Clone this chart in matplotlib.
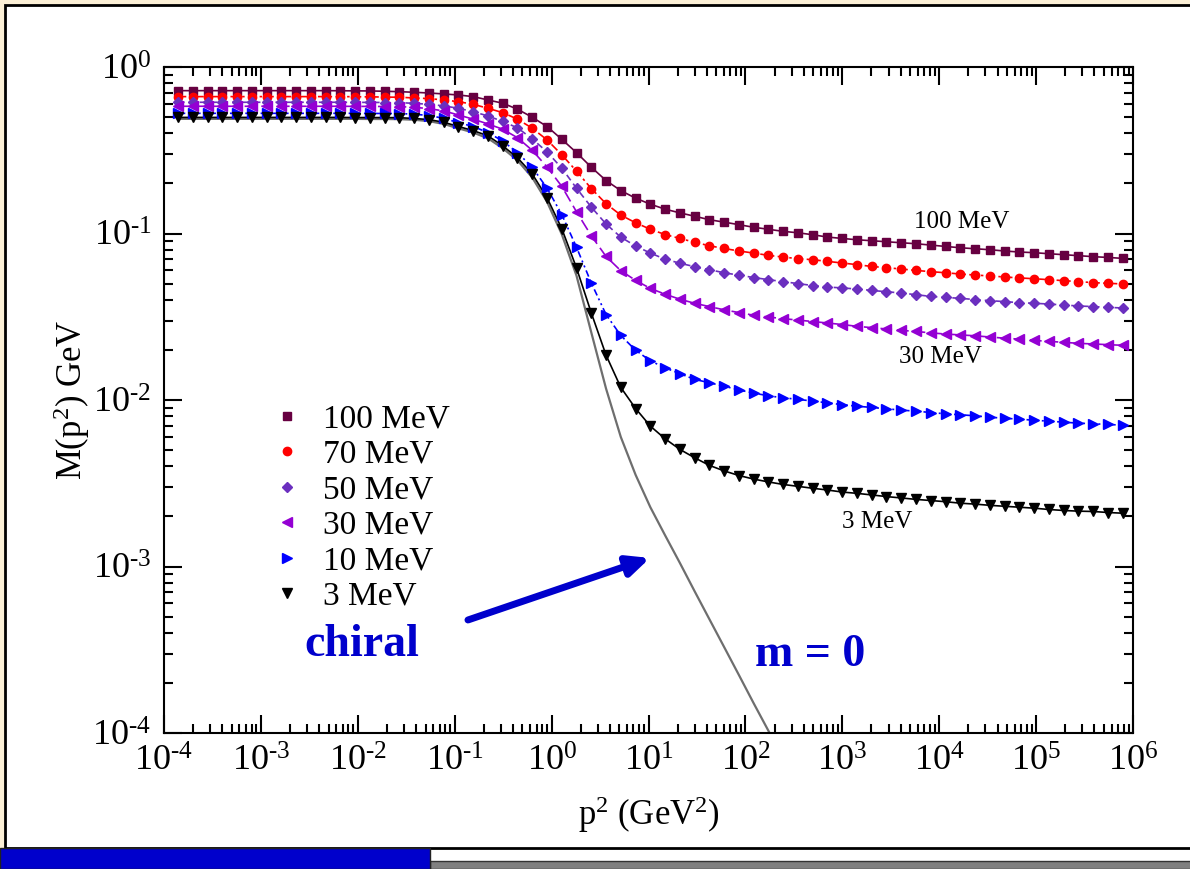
import numpy as np
import matplotlib
matplotlib.use("Agg")
import matplotlib.pyplot as plt
from matplotlib.patches import Rectangle

plt.rcParams["font.family"] = ["Liberation Serif", "DejaVu Serif"]
plt.rcParams["mathtext.fontset"] = "custom"
plt.rcParams["mathtext.rm"] = "Liberation Serif"
plt.rcParams["mathtext.it"] = "Liberation Serif:italic"
plt.rcParams["mathtext.bf"] = "Liberation Serif:bold"

# ── data: log10 p^2 grid (GeV^2) and running mass M(p^2) in GeV ───────────────
log_p2 = [-3.856, -3.704, -3.551, -3.399, -3.247, -3.094, -2.942, -2.790, -2.637, -2.485,
          -2.333, -2.180, -2.028, -1.876, -1.723, -1.571, -1.419, -1.266, -1.114, -0.961,
          -0.809, -0.657, -0.504, -0.352, -0.200, -0.047, 0.105, 0.257, 0.410, 0.562,
          0.714, 0.867, 1.019, 1.171, 1.324, 1.476, 1.628, 1.781, 1.933, 2.085,
          2.238, 2.390, 2.542, 2.695, 2.847, 2.999, 3.152, 3.304, 3.456, 3.609,
          3.761, 3.913, 4.066, 4.218, 4.370, 4.523, 4.675, 4.828, 4.980, 5.132,
          5.285, 5.437, 5.589, 5.742, 5.894]

M_100 = [0.721, 0.721, 0.721, 0.721, 0.721, 0.721, 0.721, 0.721, 0.721, 0.721,
         0.721, 0.720, 0.719, 0.718, 0.715, 0.711, 0.705, 0.698, 0.689, 0.679,
         0.664, 0.634, 0.606, 0.558, 0.499, 0.439, 0.368, 0.306, 0.250, 0.208,
         0.181, 0.163, 0.150, 0.140, 0.133, 0.127, 0.121, 0.117, 0.113, 0.109,
         0.106, 0.103, 0.101, 0.0983, 0.0952, 0.0934, 0.0917, 0.0905, 0.0892, 0.0880,
         0.0868, 0.0852, 0.0836, 0.0821, 0.0810, 0.0799, 0.0785, 0.0774, 0.0767, 0.0756,
         0.0746, 0.0736, 0.0726, 0.0718, 0.0709]

M_70 = [0.664, 0.664, 0.664, 0.664, 0.664, 0.664, 0.664, 0.664, 0.664, 0.664,
        0.664, 0.664, 0.663, 0.662, 0.660, 0.658, 0.652, 0.646, 0.634, 0.619,
        0.597, 0.565, 0.532, 0.486, 0.429, 0.365, 0.297, 0.237, 0.186, 0.151,
        0.129, 0.116, 0.106, 0.0986, 0.0934, 0.0886, 0.0844, 0.0813, 0.0785, 0.0763,
        0.0739, 0.0722, 0.0706, 0.0696, 0.0680, 0.0665, 0.0650, 0.0634, 0.0623, 0.0612,
        0.0600, 0.0590, 0.0581, 0.0571, 0.0563, 0.0556, 0.0548, 0.0541, 0.0535, 0.0528,
        0.0521, 0.0514, 0.0507, 0.0502, 0.0498]

M_50 = [0.614, 0.614, 0.614, 0.614, 0.614, 0.614, 0.614, 0.614, 0.614, 0.614,
        0.614, 0.614, 0.613, 0.613, 0.612, 0.611, 0.605, 0.597, 0.584, 0.565,
        0.539, 0.508, 0.471, 0.431, 0.370, 0.309, 0.247, 0.187, 0.144, 0.114,
        0.0951, 0.0841, 0.0763, 0.0701, 0.0663, 0.0632, 0.0606, 0.0581, 0.0562, 0.0544,
        0.0528, 0.0514, 0.0500, 0.0487, 0.0477, 0.0471, 0.0464, 0.0455, 0.0447, 0.0439,
        0.0429, 0.0419, 0.0413, 0.0408, 0.0401, 0.0395, 0.0390, 0.0384, 0.0381, 0.0377,
        0.0372, 0.0367, 0.0364, 0.0360, 0.0357]

M_30 = [0.581, 0.581, 0.581, 0.581, 0.581, 0.581, 0.581, 0.581, 0.581, 0.581,
        0.581, 0.581, 0.580, 0.580, 0.579, 0.578, 0.573, 0.562, 0.545, 0.515,
        0.486, 0.455, 0.423, 0.376, 0.316, 0.251, 0.192, 0.135, 0.0969, 0.0728,
        0.0598, 0.0523, 0.0468, 0.0432, 0.0403, 0.0381, 0.0364, 0.0348, 0.0335, 0.0323,
        0.0315, 0.0308, 0.0302, 0.0296, 0.0290, 0.0284, 0.0277, 0.0272, 0.0267, 0.0262,
        0.0258, 0.0253, 0.0249, 0.0246, 0.0243, 0.0239, 0.0235, 0.0232, 0.0228, 0.0225,
        0.0222, 0.0219, 0.0217, 0.0215, 0.0213]

M_10 = [0.527, 0.527, 0.527, 0.527, 0.527, 0.527, 0.527, 0.527, 0.527, 0.527,
        0.527, 0.527, 0.527, 0.526, 0.526, 0.525, 0.521, 0.511, 0.492, 0.463,
        0.439, 0.404, 0.359, 0.306, 0.250, 0.187, 0.130, 0.0827, 0.0504, 0.0326,
        0.0244, 0.0199, 0.0172, 0.0156, 0.0144, 0.0133, 0.0127, 0.0121, 0.0115, 0.0110,
        0.0106, 0.0103, 0.0101, 0.00984, 0.00962, 0.00937, 0.00918, 0.00902, 0.00886, 0.00869,
        0.00857, 0.00841, 0.00826, 0.00815, 0.00804, 0.00788, 0.00777, 0.00767, 0.00756, 0.00746,
        0.00736, 0.00726, 0.00720, 0.00713, 0.00706]

M_3 = [0.498, 0.498, 0.498, 0.498, 0.498, 0.498, 0.498, 0.498, 0.498, 0.498,
       0.498, 0.498, 0.497, 0.497, 0.497, 0.496, 0.491, 0.483, 0.466, 0.439,
       0.415, 0.386, 0.336, 0.285, 0.228, 0.164, 0.107, 0.0621, 0.0333, 0.0186,
       0.0119, 0.00889, 0.00697, 0.00585, 0.00505, 0.00450, 0.00405, 0.00375, 0.00352, 0.00335,
       0.00322, 0.00311, 0.00303, 0.00295, 0.00288, 0.00280, 0.00275, 0.00269, 0.00263, 0.00258,
       0.00253, 0.00249, 0.00245, 0.00240, 0.00237, 0.00233, 0.00230, 0.00227, 0.00224, 0.00220,
       0.00217, 0.00215, 0.00214, 0.00211, 0.00209]

# chiral limit (m = 0), same grid up to where it leaves the frame
M_chiral = [0.488, 0.488, 0.488, 0.488, 0.488, 0.488, 0.488, 0.488, 0.488, 0.488,
            0.488, 0.488, 0.488, 0.487, 0.487, 0.486, 0.482, 0.473, 0.455, 0.428,
            0.404, 0.373, 0.325, 0.275, 0.217, 0.155, 0.0990, 0.0558, 0.0254, 0.0117,
            0.00600, 0.00355, 0.00227, 0.00154, 0.00105, 0.000710, 0.000483, 0.000328, 0.000223, 0.000151,
            0.000103, 0.0000698]

labels = ["100 MeV", "70 MeV", "50 MeV", "30 MeV", "10 MeV", "3 MeV"]
series = [M_100, M_70, M_50, M_30, M_10, M_3]
colors = ["#670041", "#ff0000", "#6b2fbf", "#9400d3", "#0000ff", "#000000"]
markers = ["s", "o", "D", "<", ">", "v"]
msizes = [5.5, 6.0, 4.8, 6.5, 6.5, 6.5]
lstyles = ["-", (0, (5, 2, 1.5, 2)), (0, (4, 2.5)), (0, (7, 3)),
           (0, (1.2, 2, 1.2, 2, 4, 2)), "-"]

x_exps = list(range(-4, 7))
y_exps = list(range(-4, 1))

p2 = 10.0 ** np.array(log_p2)

fig = plt.figure(figsize=(11.9, 8.69), dpi=100)
fig.patch.set_facecolor("white")

# slide decoration
cream = "#fcf0d6"
fig.patches.append(Rectangle((0, 1 - 5 / 869), 1, 5 / 869, transform=fig.transFigure,
                             facecolor=cream, edgecolor="none", zorder=0))
fig.patches.append(Rectangle((0, 0), 5 / 1190, 1, transform=fig.transFigure,
                             facecolor=cream, edgecolor="none", zorder=0))
fig.patches.append(Rectangle((5 / 1190, 21 / 869), 1, 1 - 26 / 869, transform=fig.transFigure,
                             facecolor="none", edgecolor="black", lw=2.0, zorder=1))
fig.patches.append(Rectangle((430 / 1190, 0), 1, 8 / 869, transform=fig.transFigure,
                             facecolor="#808080", edgecolor="#333333", lw=1.0, zorder=2))
fig.patches.append(Rectangle((0, 0), 430 / 1190, 21 / 869, transform=fig.transFigure,
                             facecolor="#0000cc", edgecolor="#222222", lw=1.0, zorder=3))

ax = fig.add_axes([164 / 1190, 1 - 733 / 869, 969 / 1190, 666 / 869])

ax.plot(p2[:len(M_chiral)], M_chiral, color="#6e6e6e", lw=1.6, zorder=2)

handles = []
for M, lab, c, mk, ms, ls in zip(series, labels, colors, markers, msizes, lstyles):
    ax.plot(p2, M, color=c, lw=1.2, ls=ls, zorder=3)
    ax.plot(p2, M, ls="none", marker=mk, ms=ms, color=c, mec=c, zorder=4)
    h, = ax.plot([], [], ls="none", marker=mk, ms=ms, color=c, mec=c, label=lab)
    handles.append(h)

ax.set_xscale("log")
ax.set_yscale("log")
ax.set_xlim(1e-4, 1e6)
ax.set_ylim(1e-4, 1e0)
ax.set_xticks([10.0 ** k for k in x_exps])
ax.set_xticklabels([r"$10^{\text{%d}}$" % k for k in x_exps])
ax.set_yticks([10.0 ** k for k in y_exps])
ax.set_yticklabels([r"$10^{\text{%d}}$" % k for k in y_exps])
ax.xaxis.set_minor_locator(matplotlib.ticker.LogLocator(base=10, subs=np.arange(2, 10), numticks=20))
ax.yaxis.set_minor_locator(matplotlib.ticker.LogLocator(base=10, subs=np.arange(2, 10), numticks=20))
ax.xaxis.set_minor_formatter(matplotlib.ticker.NullFormatter())
ax.yaxis.set_minor_formatter(matplotlib.ticker.NullFormatter())
ax.tick_params(which="both", direction="in", top=True, right=True, width=1.5, labelsize=26)
ax.tick_params(which="major", length=13)
ax.tick_params(which="minor", length=6.5)
ax.tick_params(axis="x", which="major", pad=9)
ax.tick_params(axis="y", which="major", pad=9)
for sp in ax.spines.values():
    sp.set_linewidth(1.5)

ax.set_xlabel("p$^2$ (GeV$^2$)", fontsize=25, labelpad=11)
ax.set_ylabel("M(p$^2$) GeV", fontsize=25, labelpad=0)

ax.legend(handles=handles, loc="upper left", bbox_to_anchor=(0.1094, 0.494),
          frameon=False, fontsize=24, handlelength=1.0, handletextpad=0.6,
          labelspacing=0.15, borderpad=0, borderaxespad=0)

ax.text(0.8235, 0.7673, "100 MeV", transform=ax.transAxes, fontsize=18, ha="center", va="center")
ax.text(0.8008, 0.5646, "30 MeV", transform=ax.transAxes, fontsize=18, ha="center", va="center")
ax.text(0.7358, 0.3168, "3 MeV", transform=ax.transAxes, fontsize=18, ha="center", va="center")

ax.text(0.2043, 0.1321, "chiral", transform=ax.transAxes, fontsize=33, fontweight="bold",
        color="#0000cc", ha="center", va="center")
ax.text(0.6667, 0.1171, "m = 0", transform=ax.transAxes, fontsize=33, fontweight="bold",
        color="#0000cc", ha="center", va="center")
ax.annotate("", xy=(0.5015, 0.2628), xytext=(0.3137, 0.1697), xycoords="axes fraction",
            arrowprops=dict(arrowstyle="-|>,head_length=1.3,head_width=0.6",
                            color="#0000cc", lw=5, shrinkA=0, shrinkB=0))

fig.savefig("out.png", dpi=100, facecolor=fig.get_facecolor())
